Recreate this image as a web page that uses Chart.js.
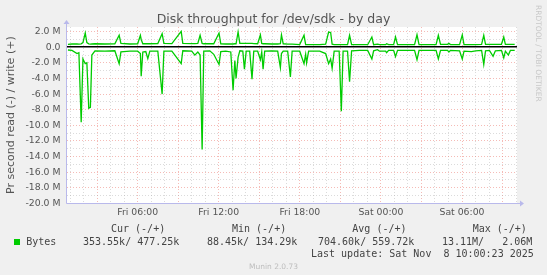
<!DOCTYPE html>
<html><head><meta charset="utf-8">
<script src="https://cdn.jsdelivr.net/npm/chart.js@4/dist/chart.umd.min.js"></script>
<style>
html,body{margin:0;padding:0;background:#f0f0f0;}
#wrap{position:relative;width:547px;height:275px;overflow:hidden;background:#f0f0f0;}
canvas{position:absolute;left:0;top:0;}
.t{position:absolute;font-family:"DejaVu Sans Mono",monospace;font-size:10px;color:#444;white-space:pre;line-height:12px;}
.sq{position:absolute;width:6px;height:6px;background:#00cc00;}
.ft{position:absolute;font-family:"DejaVu Sans",sans-serif;font-size:7.5px;color:#bdbdbd;white-space:pre;line-height:10px;}
</style></head><body>
<div id="wrap"><canvas id="c" width="547" height="275"></canvas></div>
<script>
// ---- data (hours since Fri 00:00; values in MB/s) ----
const hours = [
 0.84,1.14,1.51,1.65,1.82,1.95,2.12,2.24,2.38,2.5,
 2.61,2.84,3.58,4.31,4.63,4.76,5.42,6.0,6.2,6.26,
 6.38,6.6,6.75,6.9,7.49,7.81,7.94,8.53,9.22,9.34,
 10.0,10.23,10.45,10.62,10.77,10.89,11.34,11.63,12.02,12.15,
 12.52,12.89,13.06,13.19,13.28,13.43,13.56,13.78,13.9,14.03,
 14.29,14.46,14.59,14.88,15.08,15.18,15.28,15.4,15.92,16.36,
 16.56,16.64,16.77,17.1,17.3,17.43,17.99,18.31,18.43,18.5,
 18.65,19.47,19.91,20.13,20.28,20.39,20.54,20.91,21.07,21.2,
 21.53,21.68,21.83,22.42,23.02,23.33,23.46,23.75,23.9,24.35,
 24.42,24.57,24.94,25.08,25.23,26.12,26.49,26.67,26.82,27.45,
 28.08,28.25,28.41,28.93,29.03,29.15,29.82,30.02,30.15,30.7,
 31.0,31.45,31.61,31.74,32.03,32.3,32.47,32.92,33.09,33.21,
 33.43,33.58,33.9];
const writeM = [
 0.38,0.42,0.42,0.40,0.45,0.60,1.83,0.60,0.45,0.40,
 0.42,0.45,0.42,0.45,1.54,0.50,0.42,0.45,1.54,1.00,
 0.45,0.45,0.45,0.45,0.48,1.75,0.50,0.48,2.05,0.50,
 0.47,0.47,0.50,1.54,0.50,0.45,0.45,0.45,1.83,0.45,
 0.42,0.42,0.42,0.45,0.45,1.96,0.50,0.50,0.50,0.50,
 0.50,0.50,0.48,0.45,1.60,0.50,0.45,0.45,0.42,0.42,
 0.45,1.60,0.45,0.40,0.40,0.40,0.35,1.54,0.35,0.35,
 0.35,0.35,0.40,1.96,1.90,0.40,0.35,0.35,0.35,0.35,
 0.35,1.54,0.35,0.33,0.33,1.32,0.33,0.40,0.33,0.33,
 0.45,0.33,0.33,1.32,0.33,0.33,0.33,1.60,0.35,0.35,
 0.35,1.54,0.38,0.38,0.50,0.35,0.35,1.60,0.35,0.35,
 0.35,0.38,1.54,0.38,0.38,0.38,0.38,0.38,1.32,0.38,
 0.38,0.38,0.38];
const readM = [
 0.35,0.40,0.80,0.70,9.60,1.50,2.10,2.00,7.80,7.70,
 1.00,0.45,0.50,0.45,2.10,0.60,0.50,0.50,0.80,3.70,
 0.60,0.55,1.46,0.50,0.50,6.00,0.50,0.50,2.10,0.45,
 0.50,1.00,0.60,1.00,13.10,0.50,0.45,0.90,2.20,0.55,
 0.50,0.60,5.50,1.70,4.00,1.30,0.45,0.50,2.80,0.50,
 0.50,4.10,0.50,0.50,1.60,0.60,2.80,0.50,0.45,0.50,
 2.60,0.80,0.50,0.50,3.80,0.50,0.50,2.10,0.90,2.00,
 0.50,0.50,0.80,2.10,1.50,2.70,0.50,0.50,8.20,0.50,
 0.50,4.40,0.45,0.40,0.40,1.50,0.45,0.30,0.50,0.50,
 0.70,0.40,0.40,1.20,0.40,0.40,0.40,1.60,0.40,0.40,
 0.40,1.50,0.40,0.40,0.60,0.40,0.45,1.50,0.50,0.55,
 0.45,0.40,2.20,0.45,0.40,1.15,0.45,0.40,1.35,0.50,
 1.00,0.40,0.40];

const xTickHours  = [6, 12, 18, 24, 30];
const xTickLabels = ['Fri 06:00','Fri 12:00','Fri 18:00','Sat 00:00','Sat 06:00'];
const yTickValues = [-20,-18,-16,-14,-12,-10,-8,-6,-4,-2,0,2];
const yTickLabels = ['-20.0 M','-18.0 M','-16.0 M','-14.0 M','-12.0 M','-10.0 M','-8.0 M','-6.0 M','-4.0 M','-2.0 M','0.0','2.0 M'];

const TITLE = 'Disk throughput for /dev/sdk - by day';
const Y_TITLE = 'Pr second read (-) / write (+)';
const SIDE_TEXT = 'RRDTOOL / TOBI OETIKER';
const seriesName = 'Bytes';
const legendHeaders = ['Cur (-/+)','Min (-/+)','Avg (-/+)','Max (-/+)'];
const legendValues  = ['353.55k/ 477.25k','88.45k/ 134.29k','704.60k/ 559.72k','13.11M/   2.06M'];
const lastUpdate = 'Last update: Sat Nov  8 10:00:23 2025';
const footer = 'Munin 2.0.73';

// ---- legend (HTML text) ----
const wrap = document.getElementById('wrap');
function addText(cls, txt, left, top){ const d=document.createElement('div'); d.className=cls; d.textContent=txt; d.style.left=left+'px'; d.style.top=top+'px'; wrap.appendChild(d); return d; }
const headerX = [111, 232, 352.3, 472.7];
const valueX  = [83, 207, 318, 442];
legendHeaders.forEach((h,i)=>addText('t', h, headerX[i], 223.2));
const sq = document.createElement('div'); sq.className='sq'; sq.style.left='14px'; sq.style.top='238.5px'; wrap.appendChild(sq);
addText('t', seriesName, 26.2, 235.7);
legendValues.forEach((v,i)=>addText('t', v, valueX[i], 235.7));
addText('t', lastUpdate, 311, 248.3);
const f = addText('ft', footer, 0, 262); f.style.width='547px'; f.style.textAlign='center'; f.style.left='0px';

// ---- chart ----
const MAJOR = 'rgba(235,120,110,0.5)';
const MINOR = 'rgba(170,170,170,0.42)';
const AXIS = 'rgb(185,185,235)';
const FONT = 'DejaVu Sans';

const muninPlugin = {
  id: 'munin',
  beforeDraw(chart){
    const {ctx, chartArea:a} = chart;
    ctx.save(); ctx.fillStyle='#ffffff';
    ctx.fillRect(a.left, a.top, a.right-a.left, a.bottom-a.top);
    ctx.restore();
  },
  afterDraw(chart){
    const {ctx, chartArea:a} = chart;
    ctx.save();
    ctx.strokeStyle = AXIS; ctx.fillStyle = AXIS; ctx.lineWidth = 1;
    const L = Math.round(a.left)-0.5, B = Math.round(a.bottom)+0.5;
    ctx.beginPath(); ctx.moveTo(L, B); ctx.lineTo(L, a.top-3); ctx.stroke();
    ctx.beginPath(); ctx.moveTo(L, B); ctx.lineTo(a.right+3, B); ctx.stroke();
    ctx.beginPath(); ctx.moveTo(L-3, a.top-3); ctx.lineTo(L+3, a.top-3); ctx.lineTo(L, a.top-7); ctx.closePath(); ctx.fill();
    ctx.beginPath(); ctx.moveTo(a.right+3, B-3); ctx.lineTo(a.right+3, B+3); ctx.lineTo(a.right+7, B); ctx.closePath(); ctx.fill();
    ctx.translate(538, 5); ctx.rotate(Math.PI/2);
    ctx.font = '7.5px "DejaVu Sans"'; ctx.fillStyle = '#c8c8c8';
    ctx.textAlign = 'left'; ctx.textBaseline = 'middle';
    ctx.fillText(SIDE_TEXT, 0, 0);
    ctx.restore();
  }
};

new Chart(document.getElementById('c'), {
  type: 'line',
  data: {
    datasets: [
      { label: 'write', data: hours.map((h,i)=>({x:h, y:writeM[i]})), borderColor:'#00cc00', borderWidth:1.3, pointRadius:0, tension:0, fill:false },
      { label: 'read',  data: hours.map((h,i)=>({x:h, y:-readM[i]})), borderColor:'#00cc00', borderWidth:1.3, pointRadius:0, tension:0, fill:false }
    ]
  },
  options: {
    responsive:false, animation:false, devicePixelRatio:1,
    layout:{padding:{left:0,right:0,top:0,bottom:0}},
    plugins:{
      legend:{display:false}, tooltip:{enabled:false},
      title:{display:true, text:TITLE, color:'#555', font:{family:FONT,size:12.5,weight:'normal'}, padding:{top:12,bottom:0}}
    },
    scales:{
      x:{
        type:'linear', min:0.77, max:34.07,
        afterBuildTicks(ax){ const t=[]; for(let h=1;h<=34;h++) t.push({value:h}); ax.ticks=t; },
        afterFit(s){ s.height = 71.7; },
        ticks:{autoSkip:false, maxRotation:0, minRotation:0, padding:4.2, color:'#555', font:{family:FONT,size:9.3},
          callback(v){ const i=xTickHours.indexOf(v); return i>=0 ? xTickLabels[i] : ''; }},
        grid:{drawTicks:false, lineWidth:1, color(ctx){ if(!ctx.tick) return MINOR; return ctx.tick.value%3===0 ? MAJOR : MINOR; }},
        border:{display:false, dash:[1,2]}
      },
      y:{
        type:'linear', min:-20, max:2.6,
        afterBuildTicks(ax){ const t=[]; for(let v=-20;v<=2;v++) t.push({value:v}); ax.ticks=t; },
        afterFit(s){ s.width = 67; },
        ticks:{autoSkip:false, padding:6.5, color:'#555', font:{family:FONT,size:9.3},
          callback(v){ const i=yTickValues.indexOf(v); return i>=0 ? yTickLabels[i] : ''; }},
        title:{display:true, text:Y_TITLE, color:'#555', font:{family:FONT,size:11}, padding:{top:4.4,bottom:0}},
        grid:{drawTicks:false,
          lineWidth(ctx){ return ctx.tick && ctx.tick.value===0 ? 1.6 : 1; },
          color(ctx){ if(!ctx.tick) return MINOR; const v=ctx.tick.value; if(v===0) return '#000'; if(v===-20) return 'rgba(0,0,0,0)'; return v%2===0 ? MAJOR : MINOR; }},
        border:{display:false, dash(ctx){ return (ctx.tick && ctx.tick.value===0) ? [] : [1,2]; }}
      },
      rightGutter:{
        type:'linear', position:'right', display:true,
        afterFit(s){ s.width = 30; },
        ticks:{display:false}, grid:{display:false, drawTicks:false}, border:{display:false}
      }
    }
  },
  plugins:[muninPlugin]
});
</script>
</body></html>
